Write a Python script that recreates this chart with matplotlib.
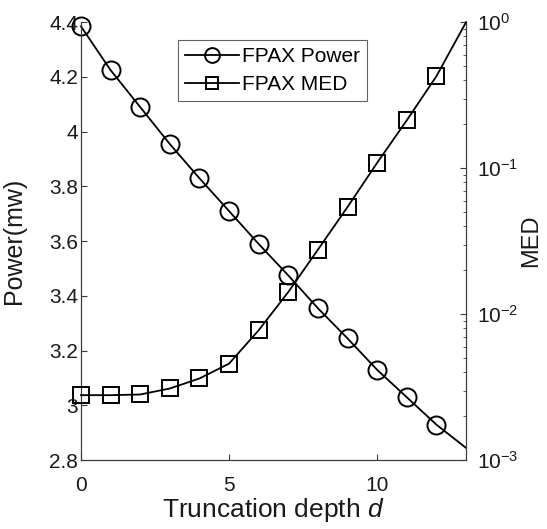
import matplotlib
matplotlib.use("Agg")
import matplotlib.pyplot as plt
from matplotlib.ticker import LogLocator, NullFormatter

plt.rcParams["font.family"] = ["Liberation Sans", "DejaVu Sans"]
plt.rcParams["mathtext.fontset"] = "custom"
plt.rcParams["mathtext.rm"] = "Liberation Sans"
plt.rcParams["mathtext.it"] = "Liberation Sans:italic"

depth = [0, 1, 2, 3, 4, 5, 6, 7, 8, 9, 10, 11, 12, 13]
power = [4.385, 4.225, 4.09, 3.955, 3.83, 3.71, 3.59, 3.475, 3.355, 3.245, 3.13, 3.03, 2.93, 2.845]
med = [0.00279, 0.00279, 0.00282, 0.0031, 0.00363, 0.00459, 0.00777, 0.0142,
       0.0277, 0.0543, 0.109, 0.213, 0.427, 1.0]
marked = list(range(13))  # markers on 0..12, line continues to 13

axis_col = "#3a3a3a"

fig = plt.figure(figsize=(5.47, 5.29), dpi=100)
ax = fig.add_axes([0.148, 0.130, 0.704, 0.828])
ax2 = ax.twinx()

l1, = ax.plot(depth, power, color="k", lw=1.3, marker="o", ms=13, mfc="none",
              mew=1.4, markevery=marked, label="FPAX Power", clip_on=False, zorder=3)
l2, = ax2.plot(depth, med, color="k", lw=1.3, marker="s", ms=11, mfc="none",
               mew=1.4, markevery=marked, label="FPAX MED", clip_on=False, zorder=3)

ax.set_xlim(0, 13)
ax.set_ylim(2.8, 4.4)
ax.set_yticks([2.8, 3.0, 3.2, 3.4, 3.6, 3.8, 4.0, 4.2, 4.4])
ax.set_yticklabels(["2.8", "3", "3.2", "3.4", "3.6", "3.8", "4", "4.2", "4.4"])
ax.set_xticks([0, 5, 10])

ax2.set_yscale("log")
ax2.set_ylim(1e-3, 1)
ax2.yaxis.set_minor_locator(LogLocator(base=10, subs=range(2, 10)))
ax2.yaxis.set_minor_formatter(NullFormatter())

for a in (ax, ax2):
    a.spines["top"].set_visible(False)
    for s in a.spines.values():
        s.set_color(axis_col)
        s.set_linewidth(0.8)
    a.tick_params(which="both", direction="in", labelsize=15, colors=axis_col,
                  labelcolor="#1a1a1a")
    a.tick_params(which="major", length=4)
    a.tick_params(which="minor", length=2.5)
ax.tick_params(axis="x", pad=11)
ax.tick_params(axis="y", pad=2)
ax2.tick_params(axis="y", pad=8)

ax.set_xlabel("Truncation depth $d$", fontsize=19, labelpad=1, color="#1a1a1a")
ax.set_ylabel("Power(mw)", fontsize=18, color="#1a1a1a")
ax2.set_ylabel("MED", fontsize=17, color="#1a1a1a")
ax.yaxis.set_label_coords(-0.143, 0.5)
ax2.yaxis.set_label_coords(1.14, 0.5)

leg = ax.legend(handles=[l1, l2], loc="upper left", bbox_to_anchor=(0.252, 0.959),
                fontsize=15, frameon=True, fancybox=False, handlelength=2.6,
                handletextpad=0.1, borderpad=0.35, labelspacing=0.4,
                borderaxespad=0, markerscale=0.82)
leg.get_frame().set_edgecolor(axis_col)
leg.get_frame().set_linewidth(0.8)

fig.savefig("out.png", dpi=100)
